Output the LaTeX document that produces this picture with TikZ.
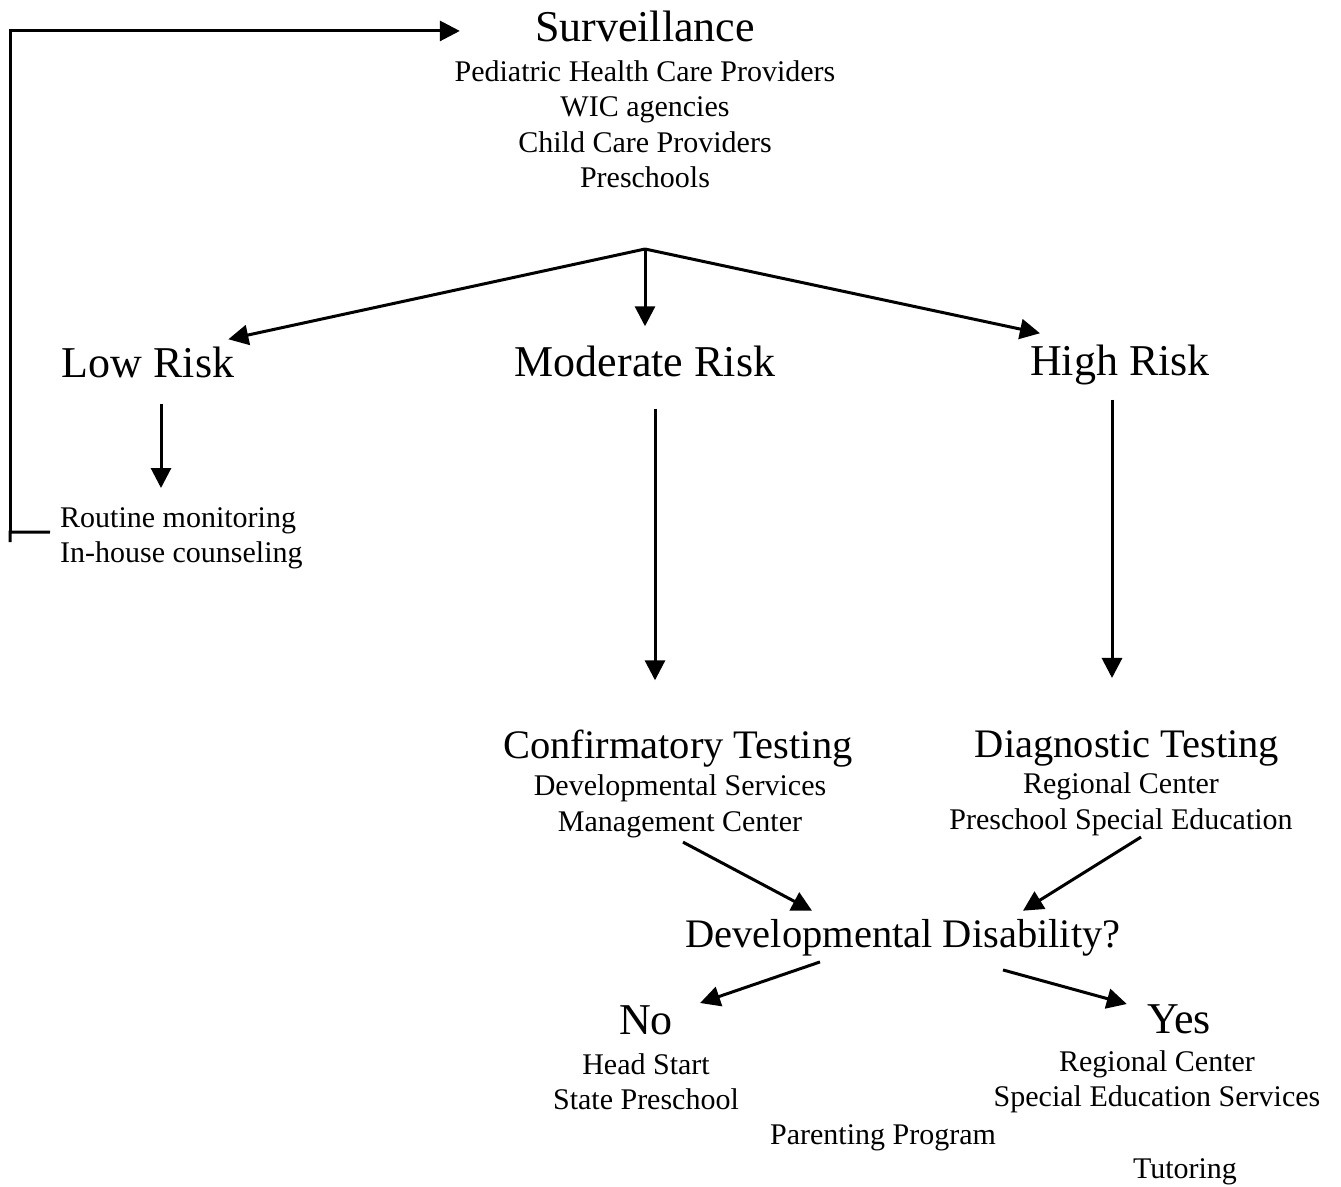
\documentclass[tikz,border=0pt]{standalone}
\usepackage{fontspec}
\setmainfont{Liberation Serif}
\usetikzlibrary{arrows.meta, positioning}

\begin{document}
\begin{tikzpicture}[
    % 坐标按像素计 (y 向下)
    x=1pt, y=-1pt,
    % 样式定义
    headtext/.style={font=\fontsize{44}{50}\selectfont, inner sep=0pt, anchor=base},
    midtext/.style={headtext, font=\fontsize{40.5}{46}\selectfont},
    sublist/.style={font=\fontsize{30}{35.5}\selectfont, inner sep=0pt, align=center},
    flow/.style={-{Triangle[length=20pt, width=20pt]}, line width=3pt},
    plainline/.style={line width=3pt}
]
    \useasboundingbox (0,0) rectangle (1341,1186);

    % ====== 1. 顶部:Surveillance ======
    \node[headtext] (surv) at (645,41) {Surveillance};
    \node[sublist, below=18.5pt of surv] (survsub) {Pediatric Health Care Providers\\WIC agencies\\Child Care Providers\\Preschools};

    % ====== 2. 三个风险等级 ======
    \coordinate (split) at (645,249);
    \node[headtext] (low)  at (148,377)  {Low Risk};
    \node[headtext] (mod)  at (645,376)  {Moderate Risk};
    \node[headtext] (high) at (1120,375) {High Risk};

    \draw[flow] (split) -- ([xshift=-6pt, yshift=7pt]low.north east);
    \draw[flow, shorten >=19pt] (split) -- (mod.north);
    \draw[flow] (split) -- ([xshift=10pt, yshift=11pt]high.north west);

    % 低风险 -> 常规监测,再回到顶部
    \node[sublist, align=left, anchor=north west] (routine) at (60,507) {Routine monitoring\\In-house counseling};
    \draw[flow, shorten <=26pt, shorten >=19pt] ([xshift=13pt]low.south) -- ([xshift=13pt]low.south |- routine.north);

    \coordinate (loopcorner) at (10,532);
    \draw[plainline] ([xshift=-10pt, yshift=6pt]routine.west) -- (loopcorner) -- ++(0,-10pt);
    \draw[flow] (loopcorner) |- ([xshift=-75pt, yshift=-5pt]surv.west);

    % ====== 3. 检测 ======
    \node[midtext] (conf) at (678,758)  {Confirmatory Testing};
    \node[sublist, below=8pt of conf, xshift=2pt] (confsub) {Developmental Services\\Management Center};

    \node[midtext] (diag) at (1127,757) {Diagnostic Testing};
    \node[sublist, below=7pt of diag, xshift=-6pt] (diagsub) {Regional Center\\Preschool Special Education};

    \draw[flow, shorten <=32pt, shorten >=49pt] ([xshift=10pt]mod.south) -- ([xshift=10pt]mod.south |- conf.north);
    \draw[flow, shorten <=15pt, shorten >=52pt] ([xshift=-8pt]high.south) -- ([xshift=-8pt]high.south |- diag.north);

    % ====== 4. 发育障碍判断 ======
    \node[midtext] (dd) at (903,947) {Developmental Disability?};

    \draw[flow] ([xshift=3pt, yshift=-4pt]confsub.south) -- ([xshift=-91pt, yshift=8pt]dd.north);
    \draw[flow] ([xshift=20pt, yshift=-1pt]diagsub.south) -- ([xshift=120pt, yshift=8pt]dd.north);

    % ====== 5. 结果:No / Yes ======
    \node[headtext] (no)  at (646,1034)  {No};
    \node[sublist, below=18.5pt of no] (nosub) {Head Start\\State Preschool};

    \node[headtext] (yes) at (1179,1033) {Yes};
    \node[sublist, below=16.5pt of yes, xshift=-22pt] (yessub) {Regional Center\\Special Education Services};

    \draw[flow] ([xshift=-83pt, yshift=-6pt]dd.south) -- ([xshift=27pt, yshift=2pt]no.north east);
    \draw[flow] ([xshift=100pt, yshift=-14pt]dd.south) -- ([xshift=-20pt]yes.north west);

    % 底部零散项
    \node[sublist, anchor=base] (parenting) at (883,1144) {Parenting Program};
    \node[sublist, anchor=base] (tutoring)  at (1185,1178) {Tutoring};

\end{tikzpicture}
\end{document}
